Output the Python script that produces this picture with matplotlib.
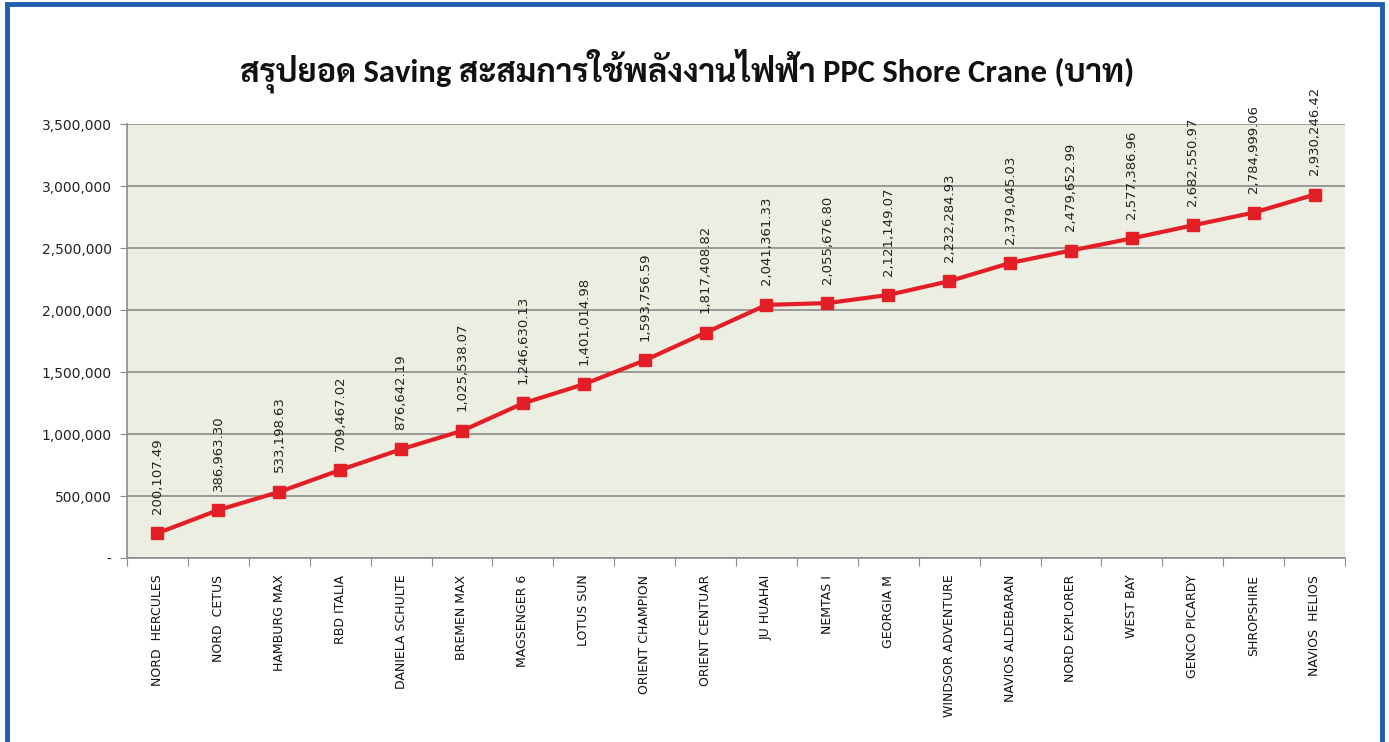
import matplotlib
matplotlib.use('Agg')
import matplotlib.pyplot as plt
from matplotlib.patches import Rectangle
from matplotlib.ticker import FuncFormatter

plt.rcParams['font.family'] = ['DejaVu Sans', 'Noto Sans', 'Liberation Sans']

ships = ['NORD  HERCULES', 'NORD  CETUS', 'HAMBURG MAX', 'RBD ITALIA', 'DANIELA SCHULTE',
         'BREMEN MAX', 'MAGSENGER 6', 'LOTUS SUN', 'ORIENT CHAMPION', 'ORIENT CENTUAR',
         'JU HUAHAI', 'NEMTAS I', 'GEORGIA M', 'WINDSOR ADVENTURE', 'NAVIOS ALDEBARAN',
         'NORD EXPLORER', 'WEST BAY', 'GENCO PICARDY', 'SHROPSHIRE', 'NAVIOS  HELIOS']
saving = [200107.49, 386963.30, 533198.63, 709467.02, 876642.19,
          1025538.07, 1246630.13, 1401014.98, 1593756.59, 1817408.82,
          2041361.33, 2055676.80, 2121149.07, 2232284.93, 2379045.03,
          2479652.99, 2577386.96, 2682550.97, 2784999.06, 2930246.42]
yticks = [0, 500000, 1000000, 1500000, 2000000, 2500000, 3000000, 3500000]

title = 'สรุปยอด Saving สะสมการใช้พลังงานไฟฟ้า PPC Shore Crane (บาท)'
title_fonts = ['Carlito', 'Sarabun', 'Noto Sans Thai Looped', 'Noto Sans Thai', 'Bai Jamjuree',
               'DejaVu Sans']

fig = plt.figure(figsize=(13.89, 7.42), dpi=100)
# blue frame around the picture
fig.patches.append(Rectangle((0.005, -0.01), 0.99, 1.005, transform=fig.transFigure,
                             fill=False, edgecolor='#1f5fae', linewidth=3.5))

ax = fig.add_axes([127/1389, 1-558/742, 1218/1389, 434/742])
ax.set_facecolor('#ebeee0')
x = list(range(len(ships)))
ax.plot(x, saving, color='#e41e26', linewidth=3, marker='s', markersize=9, zorder=3)

for i, v in enumerate(saving):
    ax.annotate(f'{v:,.2f}', (i, v), xytext=(0, 14), textcoords='offset points',
                rotation=90, ha='center', va='bottom', fontsize=9.5, color='#222222',
                annotation_clip=False)

ax.set_xlim(-0.5, len(ships)-0.5)
ax.set_ylim(0, 3500000)
ax.set_yticks(yticks)
ax.yaxis.set_major_formatter(FuncFormatter(lambda v, p: '-' if v == 0 else f'{v:,.0f}'))
ax.grid(axis='y', color='#8c8c8c', linewidth=1.2)
ax.set_axisbelow(True)

# ticks between categories, names centred under each point
ax.set_xticks([i + 0.5 for i in range(-1, len(ships))], minor=False)
ax.set_xticklabels([])
ax.set_xticks(x, minor=True)
ax.set_xticklabels(ships, minor=True, rotation=90, va='top', fontsize=9, color='#111111')
ax.tick_params(axis='x', which='minor', length=0, pad=12)
ax.tick_params(axis='x', which='major', length=6, color='#8c8c8c', direction='out')
ax.tick_params(axis='y', length=5, color='#8c8c8c', labelsize=10, labelcolor='#222222', pad=6)

for s in ['top', 'right']:
    ax.spines[s].set_visible(False)
ax.spines['left'].set_color('#8c8c8c')
ax.spines['bottom'].set_color('#8c8c8c')
ax.spines['left'].set_linewidth(1.2)
ax.spines['bottom'].set_linewidth(1.2)

fig.text(0.495, 1-71/742, title, ha='center', va='center', fontsize=23.5, fontweight='bold',
         color='#111111', family=title_fonts)

fig.savefig('out.png', dpi=100)
